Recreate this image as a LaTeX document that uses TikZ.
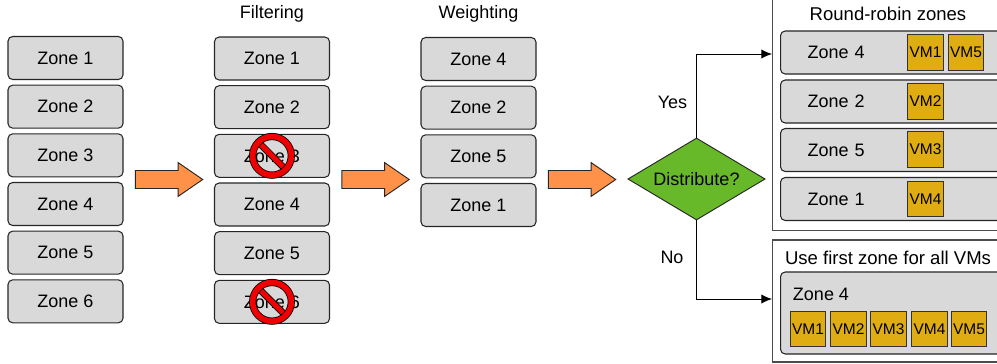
\documentclass[tikz,border=0pt]{standalone}
\usepackage{fontspec}
\setmainfont{Liberation Sans}
\usetikzlibrary{positioning,shapes.geometric,shapes.arrows,arrows.meta}
\tikzset{
  zonebox/.style={draw=black!85,fill=zonegray,rounded corners=3.5pt,line width=.8pt,minimum width=86.25pt,minimum height=32.25pt,inner sep=0pt},
  widezone/.style={draw=black!85,fill=zonegray,rounded corners=3.5pt,line width=.8pt,text width=172pt,inner xsep=20.25pt,inner ysep=0pt,minimum height=32.25pt,align=left,anchor=west},
  vmbox/.style={draw=black!80,fill=vmgold,line width=.8pt,minimum size=26.5pt,inner sep=0pt,font=\fontsize{11.6}{13}\selectfont},
  bigarrow/.style={draw=black!85,fill=arroworange,single arrow,single arrow head extend=5.9pt,single arrow tip angle=69,minimum height=50.5pt,minimum width=24.5pt,inner xsep=0pt,inner ysep=6.4pt,line width=.7pt},
  outerbox/.style={draw=black!70,fill=white,line width=.9pt,minimum width=300pt,anchor=west,inner sep=0pt},
  caption/.style={inner sep=0pt},
  widecaption/.style={inner sep=0pt,font=\fontsize{13.9}{16}\selectfont},
  noring/.style={circle,draw=black,double=nored,double distance=4.2pt,line width=.6pt,minimum size=29pt,inner sep=0pt},
  nobar/.style={draw=black,double=nored,double distance=3.8pt,line width=.6pt},
  flowline/.style={draw=black,line width=.75pt,-{Latex[length=8pt,width=7pt]}}
}
\definecolor{zonegray}{HTML}{D9D9D9}
\definecolor{vmgold}{HTML}{DFAC12}
\definecolor{arroworange}{HTML}{FF9248}
\definecolor{decidegreen}{HTML}{67B92A}
\definecolor{nored}{HTML}{F00000}
\begin{document}
\begin{tikzpicture}[x=.75pt,y=-.75pt,font=\fontsize{13.5}{16}\selectfont]
            \useasboundingbox (0,0) rectangle (997,364);
            \clip (0,0) rectangle (997,364);
            \node[zonebox] (all1) at (65.5,58) {Zone 1};
            \node[zonebox,below=3.45pt of all1] (all2) {Zone 2};
            \node[zonebox,below=3.45pt of all2] (all3) {Zone 3};
            \node[zonebox,below=3.45pt of all3] (all4) {Zone 4};
            \node[zonebox,below=3.45pt of all4] (all5) {Zone 5};
            \node[zonebox,below=3.45pt of all5] (all6) {Zone 6};

            \node[zonebox] (filt1) at (272,58.5) {Zone 1};
            \node[zonebox,below=3.45pt of filt1] (filt2) {Zone 2};
            \node[zonebox,below=3.45pt of filt2] (filt3) {Zone 3};
            \node[zonebox,below=3.45pt of filt3] (filt4) {Zone 4};
            \node[zonebox,below=3.45pt of filt4] (filt5) {Zone 5};
            \node[zonebox,below=3.45pt of filt5] (filt6) {Zone 6};
            \node[caption] (filtlabel) at (272,14) {Filtering};

            \draw[nobar] ([shift={(135:15pt)}]filt3.center) -- ([shift={(-45:15pt)}]filt3.center);
            \node[noring] (ring3) at (filt3.center) {};
            \draw[nobar] ([shift={(135:15pt)}]filt6.center) -- ([shift={(-45:15pt)}]filt6.center);
            \node[noring] (ring6) at (filt6.center) {};

            \node[zonebox] (wgt4) at (478.5,59) {Zone 4};
            \node[zonebox,below=3.45pt of wgt4] (wgt2) {Zone 2};
            \node[zonebox,below=3.45pt of wgt2] (wgt5) {Zone 5};
            \node[zonebox,below=3.45pt of wgt5] (wgt1) {Zone 1};
            \node[caption] (wgtlabel) at (478.5,14) {Weighting};

            \node[bigarrow] (step1) at (162.5,179.5) {};
            \node[bigarrow] (step2) at (369,179.5) {};
            \node[bigarrow] (step3) at (575.5,179.5) {};

            \node[diamond,draw=black!85,fill=decidegreen,aspect=1.67,line width=.7pt,minimum width=103pt,minimum height=61.5pt,inner sep=0pt] (distribute) at (696.5,179) {Distribute?};

            \node[outerbox,minimum height=265pt] (rrbox) at (772,54) {};
            \node[widecaption] (rrlabel) at (888,14) {Round-robin zones};
            \node[widezone] (rr4) at (780,52.5) {Zone 4};
            \node[widezone] (rr2) at (780,101.5) {Zone 2};
            \node[widezone] (rr5) at (780,150) {Zone 5};
            \node[widezone] (rr1) at (780,199) {Zone 1};
            \node[vmbox] (rrvm1) at (925.5,52.5) {VM1};
            \node[vmbox] (rrvm5) at (966,52.5) {VM5};
            \node[vmbox] (rrvm2) at (925.5,101.5) {VM2};
            \node[vmbox] (rrvm3) at (925.5,149.5) {VM3};
            \node[vmbox] (rrvm4) at (925.5,199) {VM4};

            \node[outerbox,minimum height=91.5pt] (firstbox) at (772,301) {};
            \node[widecaption] (firstlabel) at (888,258) {Use first zone for all VMs};
            \node[widezone,minimum height=61.5pt] (first4) at (780,313) {};
            \node[caption] (firstzone) at (821,294) {Zone 4};
            \node[vmbox] (firstvm1) at (808,329) {VM1};
            \node[vmbox] (firstvm2) at (848.5,329) {VM2};
            \node[vmbox] (firstvm3) at (888.5,329) {VM3};
            \node[vmbox] (firstvm4) at (929.5,329) {VM4};
            \node[vmbox] (firstvm5) at (969,329) {VM5};

            \draw[flowline] (distribute.north) |- (rrbox.west);
            \draw[flowline] (distribute.south) |- ([yshift=1.5pt]firstbox.west);
            \node[caption] (yes) at (672.5,102) {Yes};
            \node[caption] (no) at (672,257) {No};
          \end{tikzpicture}
\end{document}
